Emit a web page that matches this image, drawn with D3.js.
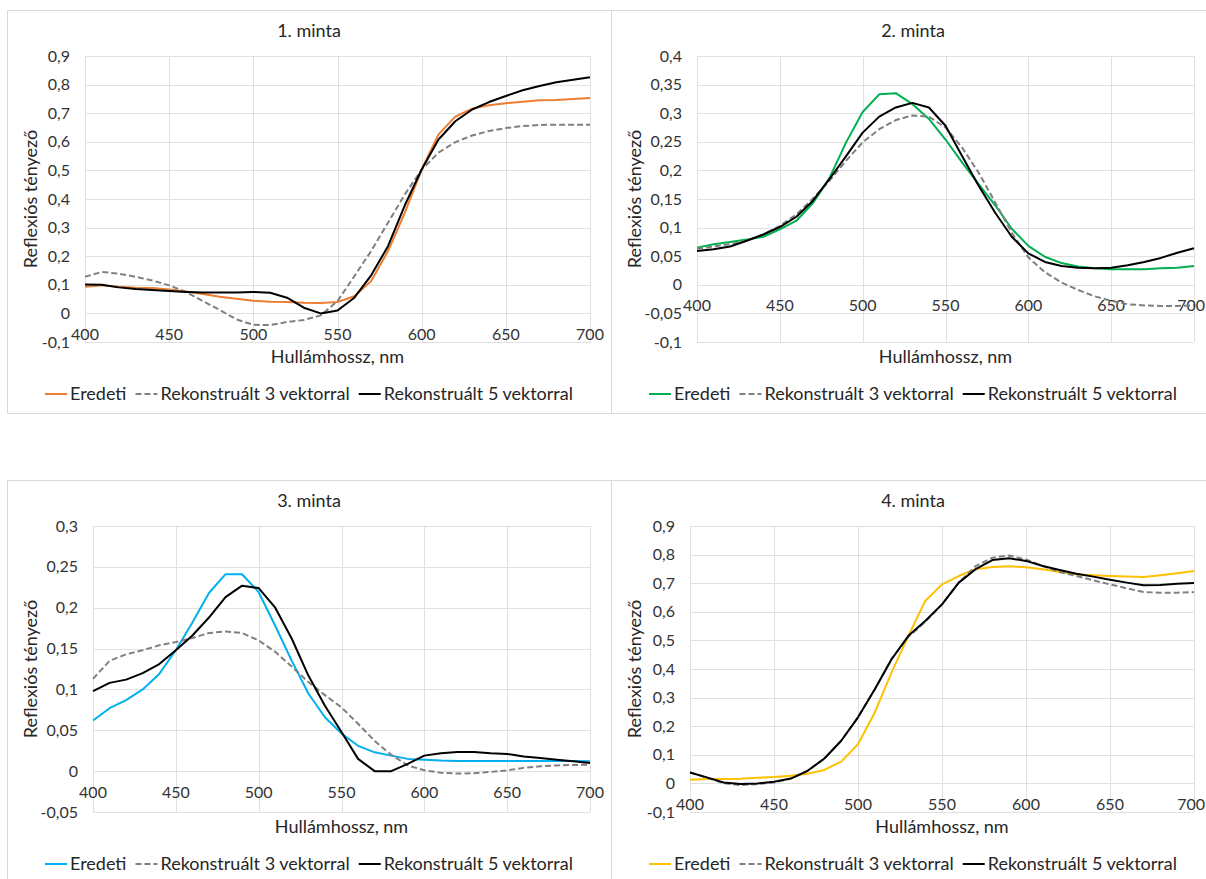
<!DOCTYPE html>
<html>
<head>
<meta charset="utf-8">
<script src="https://cdn.jsdelivr.net/npm/d3@7"></script>
<style>
  body { margin: 0; background: #fff; }
  svg { display: block; }
  text { font-family: Lato, "Open Sans", sans-serif; fill: #262626; }
</style>
</head>
<body>
<svg id="chart" width="1206" height="879"></svg>
<script>
// wavelengths, nm
const wavelengths = [400, 410, 420, 430, 440, 450, 460, 470, 480, 490, 500, 510, 520, 530, 540, 550,
                     560, 570, 580, 590, 600, 610, 620, 630, 640, 650, 660, 670, 680, 690, 700]
const xTicks = [400, 450, 500, 550, 600, 650, 700]
const seriesNames = ['Eredeti', 'Rekonstruált 3 vektorral', 'Rekonstruált 5 vektorral']
const titles = ['1. minta', '2. minta', '3. minta', '4. minta']
const xTitle = 'Hullámhossz, nm'
const yTitle = 'Reflexiós tényező'

// 1. minta
const m1Eredeti = [0.093, 0.098, 0.093, 0.090, 0.089, 0.084, 0.077, 0.068, 0.058, 0.051, 0.044, 0.041, 0.040, 0.037, 0.036, 0.040,
                   0.060, 0.113, 0.218, 0.352, 0.503, 0.626, 0.688, 0.716, 0.728, 0.735, 0.740, 0.745, 0.746, 0.750, 0.753]
const m1Rek3 = [0.128, 0.145, 0.139, 0.128, 0.115, 0.098, 0.075, 0.043, 0.012, -0.021, -0.040, -0.041, -0.030, -0.023, -0.007, 0.043,
                0.130, 0.218, 0.317, 0.416, 0.503, 0.562, 0.599, 0.622, 0.638, 0.648, 0.655, 0.659, 0.660, 0.660, 0.660]
const m1Rek5 = [0.101, 0.100, 0.091, 0.085, 0.082, 0.078, 0.075, 0.073, 0.073, 0.073, 0.075, 0.072, 0.055, 0.020, 0.000, 0.010,
                0.055, 0.133, 0.235, 0.378, 0.503, 0.608, 0.672, 0.713, 0.739, 0.760, 0.780, 0.795, 0.808, 0.817, 0.826]

// 2. minta
const m2Eredeti = [0.065, 0.071, 0.075, 0.079, 0.084, 0.097, 0.112, 0.143, 0.187, 0.249, 0.302, 0.333, 0.335, 0.316, 0.290, 0.254,
                   0.214, 0.176, 0.139, 0.098, 0.068, 0.049, 0.038, 0.032, 0.029, 0.027, 0.027, 0.027, 0.029, 0.030, 0.033]
const m2Rek3 = [0.063, 0.067, 0.071, 0.077, 0.088, 0.103, 0.123, 0.151, 0.182, 0.217, 0.249, 0.272, 0.288, 0.296, 0.294, 0.275,
                0.240, 0.196, 0.144, 0.091, 0.048, 0.022, 0.004, -0.009, -0.020, -0.028, -0.034, -0.036, -0.037, -0.037, -0.036]
const m2Rek5 = [0.059, 0.062, 0.067, 0.077, 0.088, 0.101, 0.119, 0.147, 0.185, 0.225, 0.266, 0.294, 0.310, 0.318, 0.310, 0.278,
                0.225, 0.173, 0.126, 0.084, 0.055, 0.040, 0.033, 0.030, 0.029, 0.030, 0.034, 0.040, 0.047, 0.056, 0.064]

// 3. minta
const m3Eredeti = [0.062, 0.077, 0.087, 0.100, 0.119, 0.148, 0.182, 0.218, 0.241, 0.241, 0.219, 0.178, 0.135, 0.095, 0.066, 0.046,
                   0.031, 0.023, 0.019, 0.015, 0.014, 0.013, 0.0125, 0.0125, 0.0125, 0.0125, 0.0125, 0.0125, 0.0125, 0.0125, 0.012]
const m3Rek3 = [0.113, 0.135, 0.143, 0.148, 0.154, 0.158, 0.163, 0.169, 0.171, 0.169, 0.160, 0.146, 0.128, 0.109, 0.093, 0.078,
                0.058, 0.037, 0.020, 0.007, 0.001, -0.002, -0.003, -0.0025, -0.001, 0.001, 0.004, 0.006, 0.007, 0.0075, 0.008]
const m3Rek5 = [0.098, 0.108, 0.112, 0.120, 0.131, 0.148, 0.166, 0.188, 0.213, 0.227, 0.224, 0.200, 0.162, 0.117, 0.080, 0.048,
                0.015, 0.000, 0.000, 0.009, 0.019, 0.022, 0.0235, 0.0235, 0.022, 0.021, 0.018, 0.016, 0.014, 0.012, 0.010]

// 4. minta
const m4Eredeti = [0.013, 0.015, 0.015, 0.016, 0.020, 0.022, 0.027, 0.034, 0.047, 0.076, 0.137, 0.248, 0.388, 0.516, 0.638, 0.696,
                   0.725, 0.749, 0.757, 0.759, 0.756, 0.749, 0.739, 0.731, 0.728, 0.725, 0.723, 0.722, 0.728, 0.735, 0.743]
const m4Rek3 = [0.038, 0.020, 0.001, -0.006, -0.002, 0.003, 0.017, 0.044, 0.087, 0.149, 0.231, 0.329, 0.436, 0.513, 0.565, 0.626,
                0.702, 0.760, 0.789, 0.797, 0.783, 0.760, 0.739, 0.725, 0.710, 0.696, 0.682, 0.669, 0.667, 0.667, 0.669]
const m4Rek5 = [0.038, 0.021, 0.003, -0.002, 0.000, 0.006, 0.017, 0.044, 0.087, 0.149, 0.231, 0.329, 0.434, 0.516, 0.568, 0.626,
                0.702, 0.749, 0.781, 0.787, 0.778, 0.760, 0.746, 0.733, 0.723, 0.712, 0.702, 0.693, 0.694, 0.698, 0.701]

// y axis ranges and steps per sample
const yRanges = [[-0.1, 0.9, 0.1], [-0.1, 0.4, 0.05], [-0.05, 0.3, 0.05], [-0.1, 0.9, 0.1]]
const samples = [[m1Eredeti, m1Rek3, m1Rek5], [m2Eredeti, m2Rek3, m2Rek5],
                 [m3Eredeti, m3Rek3, m3Rek5], [m4Eredeti, m4Rek3, m4Rek5]]

// layout
const eredetiColors = ['#ED7D31', '#00B050', '#00B0F0', '#FFC000']
const frames = [[7, 10], [611, 10], [7, 480], [611, 480]]
const plotLeft = [78, 86, 86, 79]
const FW = 604, FH = 403, PR = 583, PT = 46, PB = 332
const W = 1206

const svg = d3.select('#chart')
const fmt = v => String(+v.toFixed(3)).replace('.', ',')

samples.forEach((series, i) => {
  const [fx, fy] = frames[i]
  const g = svg.append('g').attr('transform', `translate(${fx},${fy})`)

  g.append('rect')
    .attr('x', 0.5).attr('y', 0.5)
    .attr('width', FW).attr('height', FH)
    .attr('fill', '#fff').attr('stroke', '#D9D9D9')

  const [ymin, ymax, step] = yRanges[i]
  const x = d3.scaleLinear().domain([400, 700]).range([plotLeft[i], PR])
  const y = d3.scaleLinear().domain([ymin, ymax]).range([PB, PT])
  const yTicks = d3.range(Math.round((ymax - ymin) / step) + 1).map(k => +(ymin + k * step).toFixed(3))

  // gridlines
  g.append('g').selectAll('line').data(yTicks).join('line')
    .attr('x1', x(400)).attr('x2', x(700))
    .attr('y1', d => Math.round(y(d)) + 0.5).attr('y2', d => Math.round(y(d)) + 0.5)
    .attr('stroke', '#E0E0E0')
  g.append('g').selectAll('line').data(xTicks).join('line')
    .attr('x1', d => Math.round(x(d)) + 0.5).attr('x2', d => Math.round(x(d)) + 0.5)
    .attr('y1', PT).attr('y2', PB)
    .attr('stroke', '#E0E0E0')

  // tick labels
  g.append('g').selectAll('text').data(yTicks).join('text')
    .attr('x', x(400) - 15).attr('y', d => y(d))
    .attr('dy', '0.35em').attr('text-anchor', 'end')
    .attr('font-size', 16).style('fill', '#333')
    .text(fmt)
  g.append('g').selectAll('text').data(xTicks).join('text')
    .attr('y', y(0) + 21)
    .attr('dy', '0.35em').attr('text-anchor', 'middle')
    .attr('font-size', 16).style('fill', '#333')
    .text(d => d)
    .attr('x', function (d) {
      // keep the last label inside the page edge
      const half = this.getComputedTextLength() / 2
      return Math.min(x(d), W - fx - half - 1)
    })

  // titles
  g.append('text').attr('x', FW / 2).attr('y', 21).attr('dy', '0.35em')
    .attr('text-anchor', 'middle').attr('font-size', 18).text(titles[i])
  g.append('text').attr('x', (x(400) + x(700)) / 2).attr('y', 347).attr('dy', '0.35em')
    .attr('text-anchor', 'middle').attr('font-size', 18).text(xTitle)
  g.append('text')
    .attr('transform', `translate(24,${(PT + PB) / 2}) rotate(-90)`)
    .attr('dy', '0.35em').attr('text-anchor', 'middle').attr('font-size', 18).text(yTitle)

  // series
  const colors = [eredetiColors[i], '#808080', '#000']
  const dashes = [null, '6,3', null]
  const line = d3.line().x((d, k) => x(wavelengths[k])).y(d => y(d))
  series.forEach((vals, s) => {
    g.append('path').datum(vals)
      .attr('d', line).attr('fill', 'none')
      .attr('stroke', colors[s]).attr('stroke-width', 2)
      .attr('stroke-dasharray', dashes[s])
      .attr('stroke-linejoin', 'round')
  })

  // legend
  const lg = g.append('g')
  let cx = 0
  seriesNames.forEach((name, s) => {
    if (s > 0) cx += 9
    lg.append('line').attr('x1', cx).attr('x2', cx + 22).attr('y1', 0).attr('y2', 0)
      .attr('stroke', colors[s]).attr('stroke-width', 2).attr('stroke-dasharray', dashes[s])
    cx += 25
    const t = lg.append('text').attr('x', cx).attr('y', 0).attr('dy', '0.35em')
      .attr('font-size', 18).text(name)
    cx += t.node().getComputedTextLength()
  })
  lg.attr('transform', `translate(${FW / 2 - cx / 2},384)`)
})
</script>
</body>
</html>
